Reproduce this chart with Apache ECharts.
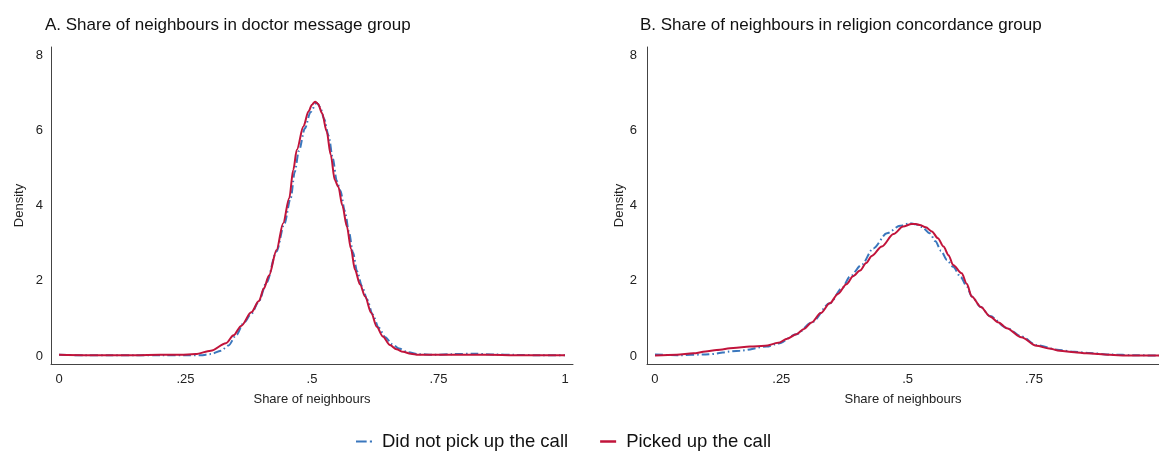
<!DOCTYPE html>
<html>
<head>
<meta charset="utf-8">
<script src="https://cdn.jsdelivr.net/npm/echarts@6/dist/echarts.min.js"></script>
<style>html,body{margin:0;padding:0;background:#fff}#c{width:1159px;height:460px}</style>
</head>
<body>
<div id="c"></div>
<script>
// ---- data ----
const titleA = 'A. Share of neighbours in doctor message group';
const titleB = 'B. Share of neighbours in religion concordance group';
const seriesNames = ['Did not pick up the call', 'Picked up the call'];
const xTicks = [0, 0.25, 0.5, 0.75, 1];
const yTicks = [0, 2, 4, 6, 8];

// Panel A: [share, density]
const notPickedA = [[0,0.03],[0.05,0.02],[0.1,0.02],[0.15,0.02],[0.2,0.02],[0.25,0.02],[0.28,0.02],[0.30,0.05],[0.32,0.14],[0.335,0.28],[0.35,0.55],[0.365,0.88],[0.38,1.12],[0.395,1.45],[0.41,1.95],[0.43,2.78],[0.445,3.50],[0.458,4.20],[0.466,4.90],[0.474,5.45],[0.486,6.05],[0.497,6.48],[0.509,6.73],[0.516,6.62],[0.524,6.30],[0.533,5.85],[0.541,5.25],[0.549,4.65],[0.556,4.40],[0.565,3.85],[0.573,3.30],[0.581,2.75],[0.589,2.25],[0.599,1.85],[0.609,1.50],[0.62,1.10],[0.632,0.75],[0.645,0.50],[0.658,0.32],[0.672,0.20],[0.69,0.10],[0.71,0.05],[0.74,0.03],[0.78,0.05],[0.82,0.06],[0.86,0.04],[0.9,0.03],[0.95,0.02],[1,0.02]];
const pickedA = [[0,0.03],[0.05,0.02],[0.1,0.02],[0.15,0.02],[0.2,0.03],[0.24,0.03],[0.27,0.05],[0.30,0.14],[0.33,0.34],[0.345,0.55],[0.36,0.80],[0.38,1.16],[0.395,1.46],[0.405,1.80],[0.415,2.14],[0.43,2.82],[0.443,3.53],[0.455,4.19],[0.463,4.95],[0.47,5.48],[0.483,6.10],[0.493,6.50],[0.50,6.68],[0.506,6.76],[0.512,6.70],[0.52,6.45],[0.529,5.97],[0.537,5.35],[0.545,4.68],[0.552,4.50],[0.56,4.00],[0.569,3.44],[0.577,2.85],[0.585,2.29],[0.595,1.90],[0.605,1.58],[0.617,1.15],[0.628,0.78],[0.64,0.52],[0.654,0.29],[0.667,0.18],[0.68,0.11],[0.695,0.06],[0.71,0.03],[0.75,0.03],[0.8,0.03],[0.85,0.03],[0.9,0.02],[0.95,0.02],[1,0.02]];

// Panel B: [share, density]
const notPickedB = [[0,0.04],[0.043,0.02],[0.1,0.04],[0.168,0.14],[0.221,0.25],[0.244,0.33],[0.28,0.58],[0.31,0.89],[0.346,1.40],[0.37,1.80],[0.386,2.11],[0.409,2.42],[0.432,2.86],[0.459,3.26],[0.485,3.46],[0.505,3.53],[0.516,3.50],[0.528,3.43],[0.544,3.26],[0.555,3.05],[0.566,2.80],[0.578,2.55],[0.59,2.37],[0.605,2.10],[0.617,1.85],[0.627,1.58],[0.645,1.30],[0.663,1.06],[0.696,0.75],[0.725,0.52],[0.755,0.29],[0.8,0.16],[0.83,0.11],[0.86,0.08],[0.9,0.04],[0.95,0.02],[1,0.01]];
const pickedB = [[0,0.01],[0.043,0.03],[0.076,0.07],[0.1,0.12],[0.122,0.16],[0.155,0.21],[0.188,0.25],[0.218,0.27],[0.244,0.35],[0.262,0.46],[0.28,0.58],[0.295,0.72],[0.31,0.89],[0.328,1.14],[0.346,1.40],[0.362,1.65],[0.379,1.91],[0.392,2.12],[0.406,2.27],[0.418,2.47],[0.429,2.66],[0.449,2.91],[0.472,3.24],[0.491,3.44],[0.508,3.51],[0.516,3.51],[0.524,3.48],[0.536,3.42],[0.548,3.31],[0.56,3.13],[0.571,2.91],[0.581,2.68],[0.59,2.42],[0.607,2.20],[0.617,1.92],[0.627,1.58],[0.645,1.30],[0.663,1.05],[0.68,0.89],[0.696,0.74],[0.725,0.50],[0.755,0.27],[0.78,0.20],[0.801,0.14],[0.83,0.10],[0.854,0.07],[0.9,0.03],[0.933,0.01],[1,0.01]];

// ---- styling ----
const FONT = '"Liberation Sans", Arial, Helvetica, sans-serif';
const BLUE = '#3a77bd';
const RED = '#c1143b';
const AXIS = '#444';

function fmtX(v){ if (v === 0) return '0'; if (v === 1) return '1'; return String(v).replace(/^0/, ''); }

function xAx(i, max){
  return {
    type: 'value', gridIndex: i, min: -0.0158, max: max,
    name: 'Share of neighbours', nameLocation: 'middle', nameGap: 29,
    nameTextStyle: {fontFamily: FONT, fontSize: 13, color: '#222'},
    axisLine: {show: true, onZero: false, lineStyle: {color: AXIS, width: 1}},
    axisTick: {show: false},
    splitLine: {show: false},
    axisLabel: {customValues: xTicks.filter(v => v <= max), formatter: fmtX, margin: 9, fontFamily: FONT, fontSize: 13, color: '#222', showMinLabel: true, showMaxLabel: true}
  };
}
function yAx(i, nameGap, margin){
  return {
    type: 'value', gridIndex: i, min: -0.2128, max: 8.2128,
    name: 'Density', nameLocation: 'middle', nameGap: nameGap,
    nameTextStyle: {fontFamily: FONT, fontSize: 13, color: '#222'},
    axisLine: {show: true, onZero: false, lineStyle: {color: AXIS, width: 1}},
    axisTick: {show: false},
    splitLine: {show: false},
    axisLabel: {customValues: yTicks, margin: margin, fontFamily: FONT, fontSize: 13, color: '#222'}
  };
}
function line(name, data, idx, color, dashed){
  return {
    name: name, type: 'line', xAxisIndex: idx, yAxisIndex: idx, data: data,
    symbol: 'none', smooth: 0.3, smoothMonotone: 'x', color: color,
    itemStyle: {color: color},
    lineStyle: {color: color, width: 2, type: dashed ? [8, 3, 1.5, 3] : 'solid'},
    z: dashed ? 2 : 3, animation: false
  };
}

const chart = echarts.init(document.getElementById('c'), null, {renderer: 'canvas'});
chart.setOption({
  animation: false,
  backgroundColor: '#fff',
  title: [
    {text: titleA, left: 45, top: 17, padding: 0, textStyle: {fontFamily: FONT, fontSize: 17, fontWeight: 'normal', color: '#111'}},
    {text: titleB, left: 640, top: 17, padding: 0, textStyle: {fontFamily: FONT, fontSize: 17, fontWeight: 'normal', color: '#111'}}
  ],
  legend: {
    data: [
      {name: seriesNames[0], icon: 'path://M0,0H10V2H0Z M13,0H15V2H13Z'},
      {name: seriesNames[1], icon: 'rect'}
    ],
    left: 356, top: 432, padding: 0, itemWidth: 16, itemHeight: 2.5, itemGap: 32,
    textStyle: {fontFamily: FONT, fontSize: 18.5, color: '#111', padding: [0, 0, 0, 5]}
  },
  grid: [
    {left: 51, top: 47, width: 522, bottom: 96, containLabel: false},
    {left: 647, top: 47, right: 0, bottom: 96, containLabel: false}
  ],
  xAxis: [xAx(0, 1.0158), xAx(1, 0.9975)],
  yAxis: [yAx(0, 25, 8), yAx(1, 16, 10)],
  series: [
    line(seriesNames[0], notPickedA, 0, BLUE, true),
    line(seriesNames[1], pickedA, 0, RED, false),
    line(seriesNames[0], notPickedB, 1, BLUE, true),
    line(seriesNames[1], pickedB, 1, RED, false)
  ]
});
</script>
</body>
</html>
